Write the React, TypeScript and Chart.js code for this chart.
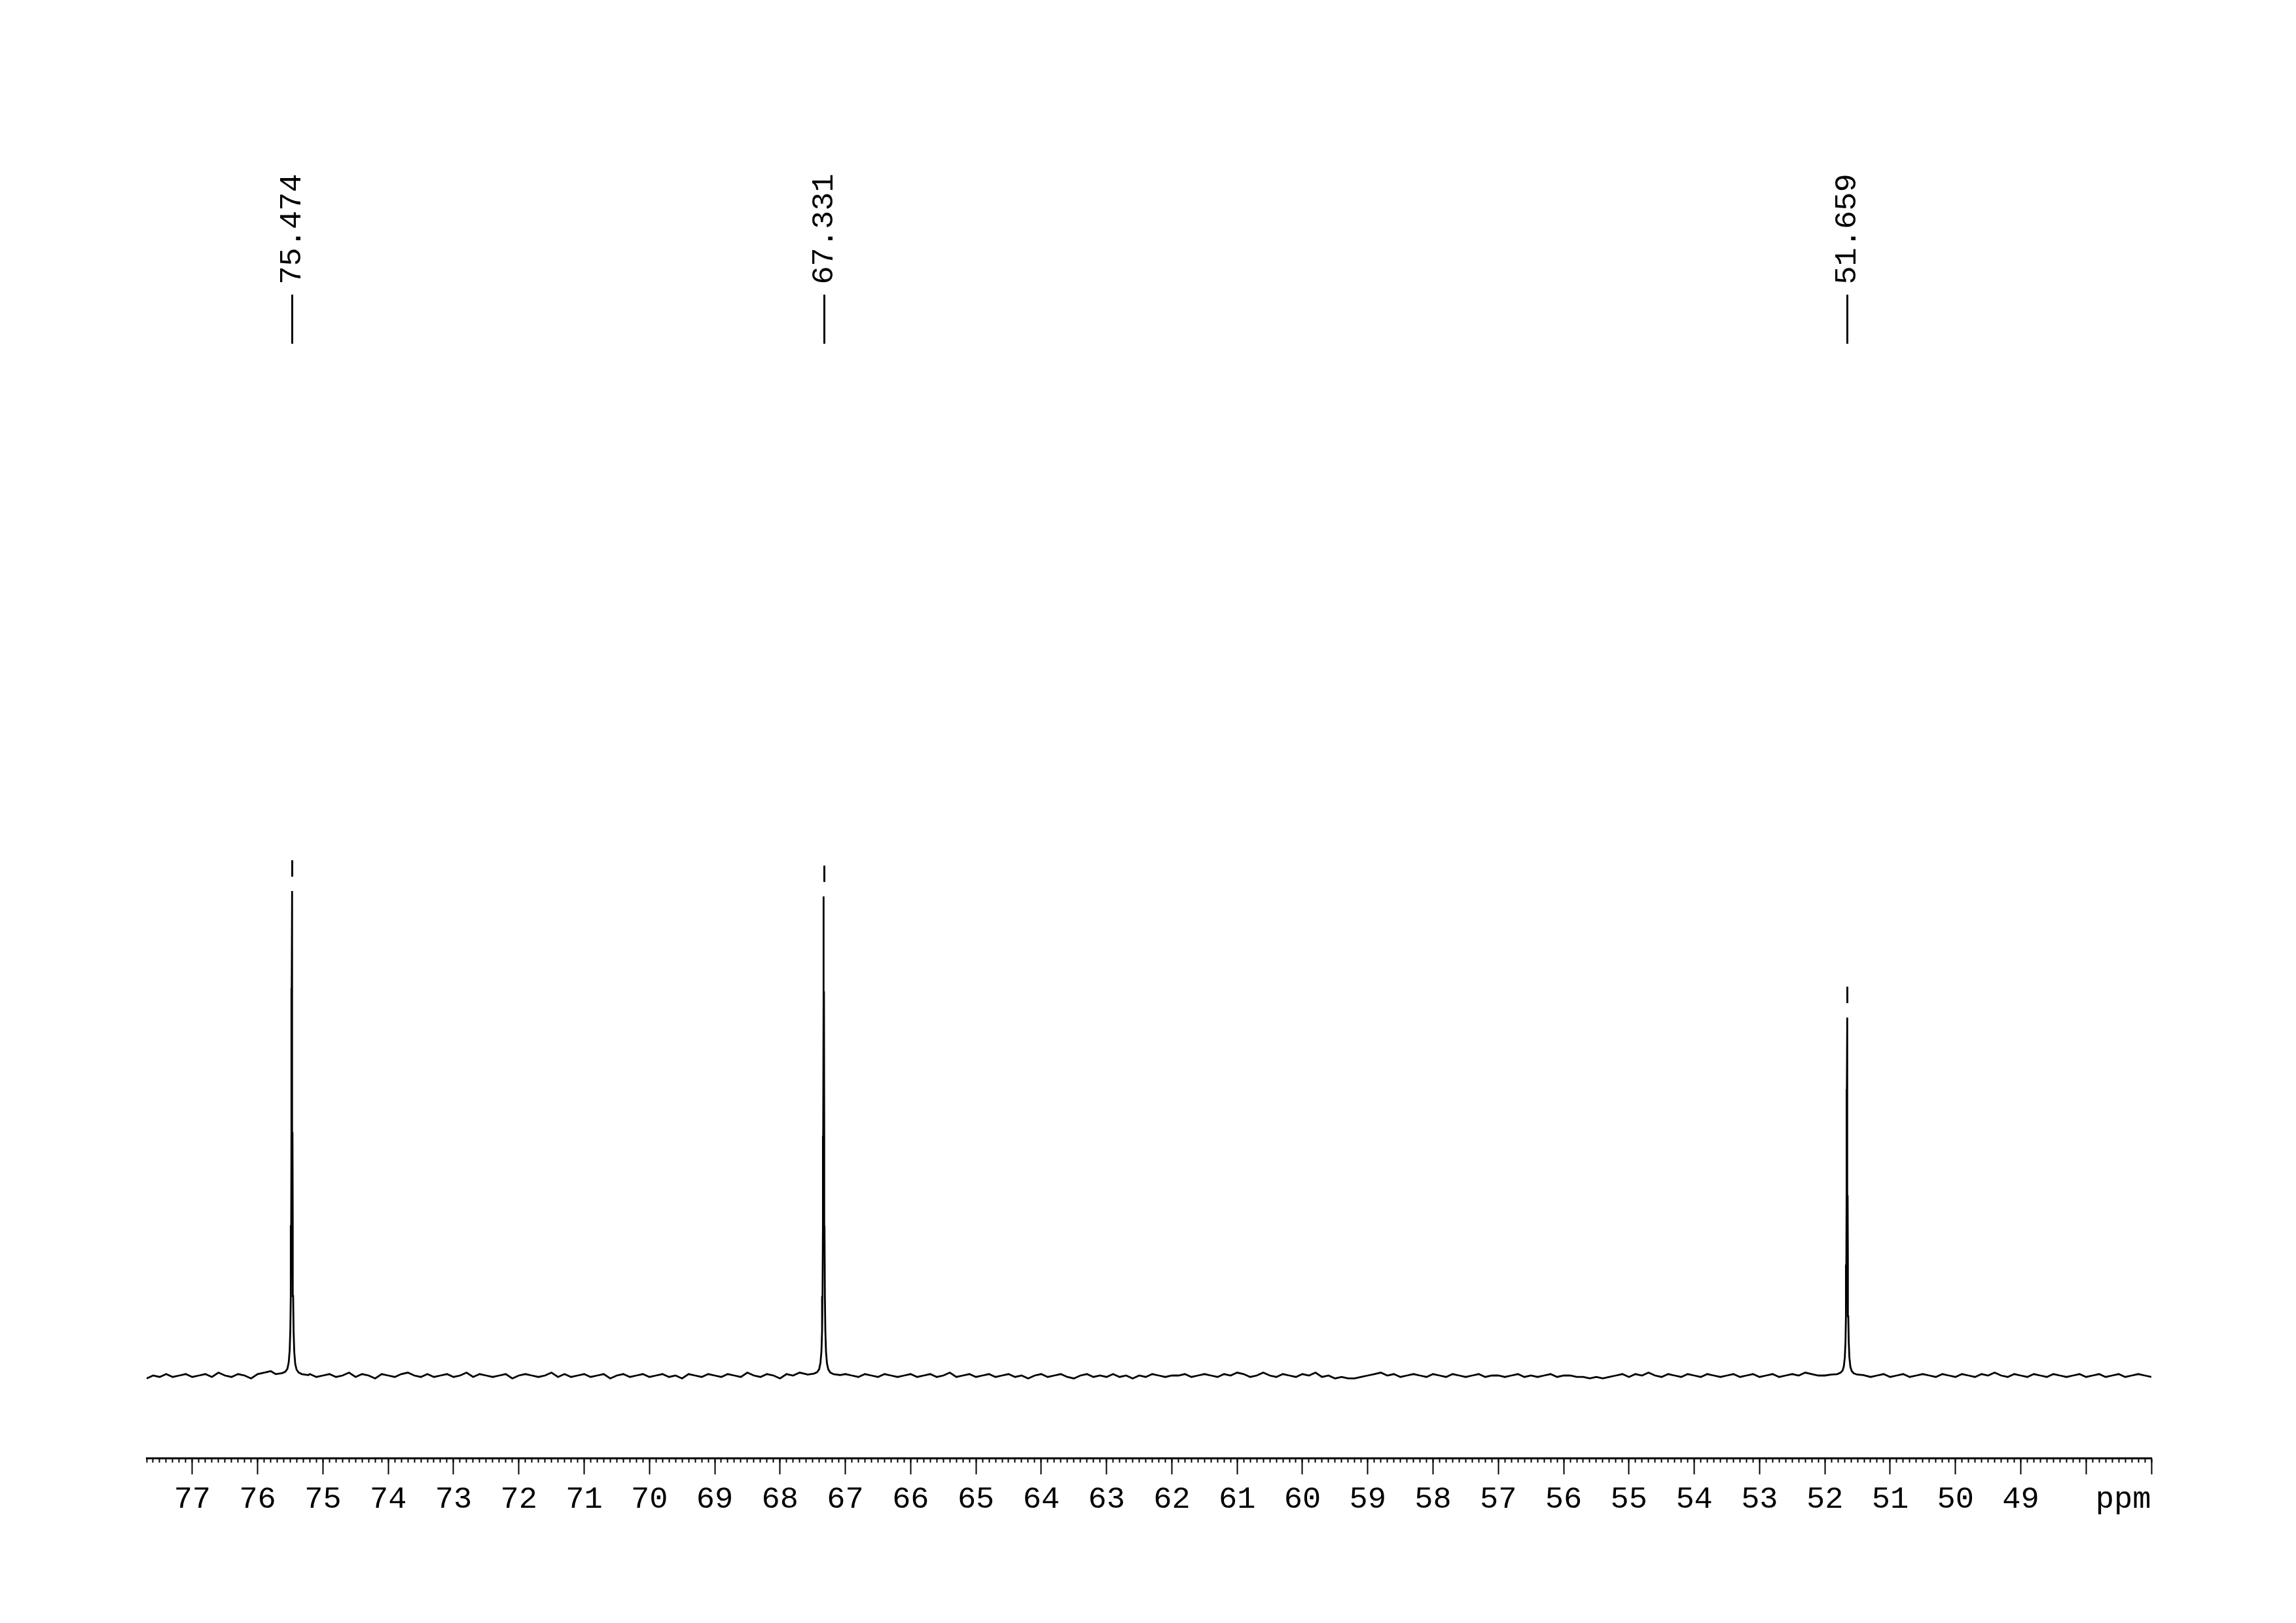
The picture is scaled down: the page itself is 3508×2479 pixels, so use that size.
import React, { useEffect, useRef } from 'react';
import { Chart, registerables } from 'chart.js';

Chart.register(...registerables);

const W = 3508;
const H = 2479;

// Axis range (ppm), reversed as in NMR plots
const PPM_LEFT = 77.7;
const PPM_RIGHT = 47.0;

// Major ticks and their labels
const majorTickValues = [77, 76, 75, 74, 73, 72, 71, 70, 69, 68, 67, 66, 65, 64, 63, 62, 61, 60, 59, 58, 57, 56, 55, 54, 53, 52, 51, 50, 49, 48, 47];
const majorTickLabels = ['77', '76', '75', '74', '73', '72', '71', '70', '69', '68', '67', '66', '65', '64', '63', '62', '61', '60', '59', '58', '57', '56', '55', '54', '53', '52', '51', '50', '49', '', ''];
const unitLabel = 'ppm';
const unitLabelPos = 47.43;
const minorTickStep = 0.1;

// Picked peaks
const peakShifts = [75.474, 67.331, 51.659];
const peakLabels = ['75.474', '67.331', '51.659'];

// Peak profiles (ppm offset from peak centre, intensity)
const peakOffsets = [-0.25, -0.15, -0.1, -0.07, -0.05, -0.035, -0.025, -0.018, -0.012, -0.008, -0.004, 0, 0.004, 0.008, 0.012, 0.018, 0.025, 0.035, 0.05, 0.07, 0.1, 0.15, 0.25];
const peak1Values = [0.001, 0.003, 0.0064, 0.0125, 0.024, 0.049, 0.092, 0.164, 0.31, 0.5, 0.8, 1.0, 0.8, 0.5, 0.31, 0.166, 0.095, 0.052, 0.027, 0.014, 0.008, 0.005, 0.003];
const peak2Values = [0.001, 0.0028, 0.0063, 0.0127, 0.025, 0.049, 0.092, 0.163, 0.307, 0.495, 0.791, 0.989, 0.791, 0.495, 0.307, 0.164, 0.093, 0.05, 0.026, 0.013, 0.007, 0.004, 0.002];
const peak3Values = [0.0007, 0.0021, 0.0047, 0.0095, 0.018, 0.037, 0.069, 0.122, 0.229, 0.37, 0.591, 0.739, 0.591, 0.37, 0.229, 0.122, 0.069, 0.038, 0.019, 0.01, 0.006, 0.003, 0.002];

// Baseline, sampled every 0.1 ppm from 77.7 down to 47.0 (noise in units of NOISE_UNIT)
const baselineStart = 77.7;
const baselineStep = 0.1;
const NOISE_UNIT = 0.003;
const baselineNoise = [
  -2, 0, -1, 1, -1, 0, 1, -1,
  0, 1, -1, 2, 0, -1, 1, 0, -2, 1,
  2, 3, 0, 0, 0, 0, 0, 1, -1, 0,
  1, -1, 0, 2, -1, 1, 0, -2, 1, 0,
  -1, 1, 2, 0, -1, 1, -1, 0, 1, -1,
  0, 2, -1, 1, 0, -1, 0, 1, -2, 0,
  1, 0, -1, 0, 2, -1, 1, -1, 0, 1,
  -1, 0, 1, -2, 0, 1, -1, 0, 1, -1,
  0, 1, -1, 0, -2, 1, 0, -1, 1, 0,
  -1, 1, 0, -1, 2, 0, -1, 1, 0, -2,
  1, 0, 2, 1, 0, 0, 0, 0, 0, 1,
  0, -1, 1, 0, -1, 1, 0, -1, 0, 1,
  -1, 0, 1, -1, 0, 2, -1, 0, 1, -1,
  0, 1, -1, 0, 1, -1, 0, -2, 0, 1,
  -1, 0, 1, -1, -2, 0, 1, -1, 0, -1,
  1, -1, 0, -2, 0, -1, 1, 0, -1, 0,
  0, 1, -1, 0, 1, 0, -1, 1, 0, 2,
  1, -1, 0, 2, 0, -1, 1, 0, -1, 1,
  0, 2, -1, 0, -2, -1, -2, -2, -1, 0,
  1, 2, 0, 1, -1, 0, 1, 0, -1, 1,
  0, -1, 1, 0, -1, 0, 1, -1, 0, 0,
  -1, 0, 1, -1, 0, -1, 0, 1, -1, 0,
  0, -1, -1, -2, -1, -2, -1, 0, 1, -1,
  1, 0, 2, 0, -1, 1, 0, -1, 1, 0,
  -1, 1, 0, -1, 0, 1, -1, 0, 1, -1,
  0, 1, -1, 0, 1, 0, 2, 1, 0, 0,
  0, 0, 0, 0, 0, 1, -1, 0, 1, -1,
  0, 1, -1, 0, 1, 0, -1, 1, 0, -1,
  1, 0, -1, 1, 0, 2, 0, -1, 1, 0,
  -1, 1, 0, -1, 1, 0, -1, 0, 1, -1,
  0, 1, -1, 0, 1, -1, 0, 1, 0, -1,
];

const peakValueSets = [peak1Values, peak2Values, peak3Values];

function buildSpectrum() {
  const pts: { x: number; y: number }[] = [];
  baselineNoise.forEach((n, i) => {
    const x = Math.round((baselineStart - i * baselineStep) * 10) / 10;
    if (peakShifts.some((p) => Math.abs(x - p) < 0.26)) return;
    pts.push({ x, y: n * NOISE_UNIT });
  });
  peakValueSets.forEach((vals, k) => {
    peakOffsets.forEach((o, j) => pts.push({ x: peakShifts[k] + o, y: vals[j] }));
  });
  pts.sort((a, b) => a.x - b.x);
  return pts;
}

function buildMinorTicks() {
  const t: { value: number }[] = [];
  const n = Math.round((PPM_LEFT - PPM_RIGHT) / minorTickStep);
  for (let i = 0; i <= n; i++) t.push({ value: Math.round((PPM_RIGHT + i * minorTickStep) * 10) / 10 });
  return t;
}

const FONT_FAMILY = '"Liberation Mono", "Courier New", monospace';

const peakAnnotations = {
  id: 'peakAnnotations',
  afterDatasetsDraw(chart: any) {
    const { ctx, chartArea, scales } = chart;
    const xs = scales.x;
    const ys = scales.y;
    ctx.save();
    ctx.strokeStyle = '#000';
    ctx.fillStyle = '#000';
    ctx.lineWidth = 3;
    ctx.lineCap = 'butt';
    ctx.font = `47px ${FONT_FAMILY}`;
    peakShifts.forEach((p, k) => {
      const px = Math.round(xs.getPixelForValue(p)) + 0.5;
      const top = ys.getPixelForValue(Math.max(...peakValueSets[k]));
      ctx.beginPath();
      ctx.moveTo(px, top - 47);
      ctx.lineTo(px, top - 22);
      ctx.stroke();
      ctx.beginPath();
      ctx.moveTo(px, chartArea.top + 347);
      ctx.lineTo(px, chartArea.top + 422);
      ctx.stroke();
      ctx.save();
      ctx.translate(px + 12, chartArea.top + 247);
      ctx.rotate(-Math.PI / 2);
      ctx.textAlign = 'center';
      ctx.textBaseline = 'alphabetic';
      ctx.fillText(peakLabels[k], 0, 0);
      ctx.restore();
    });
    ctx.restore();
  },
};

export default function App() {
  const ref = useRef<HTMLCanvasElement>(null);

  useEffect(() => {
    if (!ref.current) return;
    const data = buildSpectrum();
    const minorTicks = buildMinorTicks();
    const chart = new Chart(ref.current, {
      type: 'line',
      data: {
        datasets: [
          {
            data,
            xAxisID: 'x',
            yAxisID: 'y',
            borderColor: '#000',
            borderWidth: 2.8,
            pointRadius: 0,
            tension: 0,
            fill: false,
          },
        ],
      },
      options: {
        responsive: false,
        animation: false,
        devicePixelRatio: 1,
        events: [],
        layout: { padding: { left: 224, right: 221, top: 103, bottom: 0 } },
        plugins: {
          legend: { display: false },
          tooltip: { enabled: false },
          title: { display: false },
        },
        scales: {
          x: {
            type: 'linear',
            position: 'bottom',
            weight: 1,
            min: PPM_RIGHT,
            max: PPM_LEFT,
            reverse: true,
            afterBuildTicks: (s: any) => {
              s.ticks = [...majorTickValues.map((v) => ({ value: v })), { value: unitLabelPos }];
            },
            afterFit: (s: any) => {
              s.height = 252;
            },
            ticks: {
              autoSkip: false,
              maxRotation: 0,
              minRotation: 0,
              padding: 10,
              color: '#000',
              font: { family: FONT_FAMILY, size: 47 },
              callback: (_v: any, i: number) => (i < majorTickLabels.length ? majorTickLabels[i] : unitLabel),
            },
            grid: {
              drawOnChartArea: false,
              drawTicks: true,
              tickLength: 25,
              tickWidth: 2,
              tickColor: (c: any) => (c.index === majorTickValues.length ? 'rgba(0,0,0,0)' : '#000'),
            },
            border: { display: true, color: '#000', width: 3 },
          },
          xMinor: {
            type: 'linear',
            position: 'bottom',
            weight: 0,
            min: PPM_RIGHT,
            max: PPM_LEFT,
            reverse: true,
            afterBuildTicks: (s: any) => {
              s.ticks = minorTicks.map((t) => ({ value: t.value }));
            },
            afterFit: (s: any) => {
              s.height = 0;
            },
            ticks: { display: false, autoSkip: false },
            grid: {
              drawOnChartArea: false,
              drawTicks: true,
              tickLength: 7,
              tickWidth: 2,
              tickColor: '#000',
            },
            border: { display: false },
          },
          y: {
            display: false,
            min: -126 / 740,
            max: 2.7,
          },
        },
      },
      plugins: [peakAnnotations],
    } as any);
    return () => chart.destroy();
  }, []);

  return (
    <div style={{ position: 'fixed', left: 0, top: 0, width: W, height: H, background: '#fff' }}>
      <canvas ref={ref} width={W} height={H} style={{ display: 'block', width: W, height: H }} />
    </div>
  );
}
